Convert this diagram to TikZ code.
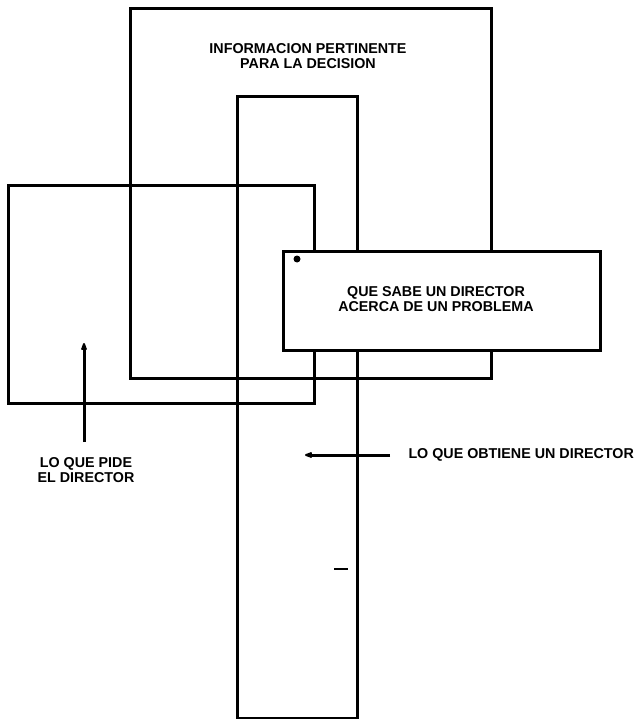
\documentclass[tikz,border=0pt]{standalone}
\usepackage{fontspec}
\setmainfont{Liberation Sans}
\usepackage{tikz}
\usetikzlibrary{positioning,arrows.meta}

\begin{document}
\begin{tikzpicture}[x=1pt, y=-1pt, >={Stealth[round, length=11pt, width=8pt]}, line width=3pt,
 box/.style = {rectangle, draw, fill=none, inner sep=0pt, outer sep=0pt},
 lbl/.style = {font=\fontsize{14.3}{15.5}\selectfont\bfseries, align=center, inner sep=1pt}]

\useasboundingbox (0,0) rectangle (639,719);

% los cuatro rectangulos
\node[box, minimum width=361pt, minimum height=369pt] (info) at (310.5,193.5) {};
\node[box, minimum width=119.5pt, minimum height=621pt] (obt) at (297.5,407.5) {};
\node[box, minimum width=306pt, minimum height=217pt] (pide) at (161,294.5) {};
\node[box, fill=white, minimum width=317pt, minimum height=99pt] (sabe) at (441.5,300.5) {};

\node[lbl] (infotxt) at (308,56) {INFORMACION PERTINENTE\\PARA LA DECISION};
\node[lbl] (sabetxt) at (436,299) {QUE SABE UN DIRECTOR\\ACERCA DE UN PROBLEMA};
\node[lbl] (pidetxt) at (86,470) {LO QUE PIDE\\EL DIRECTOR};
\node[lbl, anchor=west] (obttxt) at (406,455) {LO QUE OBTIENE UN DIRECTOR};

\coordinate (pidetip) at (84,343);
\coordinate (pidetail) at (84,442);
\coordinate (obttip) at (305,455);
\coordinate (obttail) at (390,455);

\draw[->] (pidetail) -- (pidetip);
\draw[->] (obttail) -- (obttip);

% marcas pequenas
\fill (sabe.north west) ++(14,8) circle (3.5pt);
\draw[line width=2.5pt] (334,569) -- (348,569);
\end{tikzpicture}
\end{document}
